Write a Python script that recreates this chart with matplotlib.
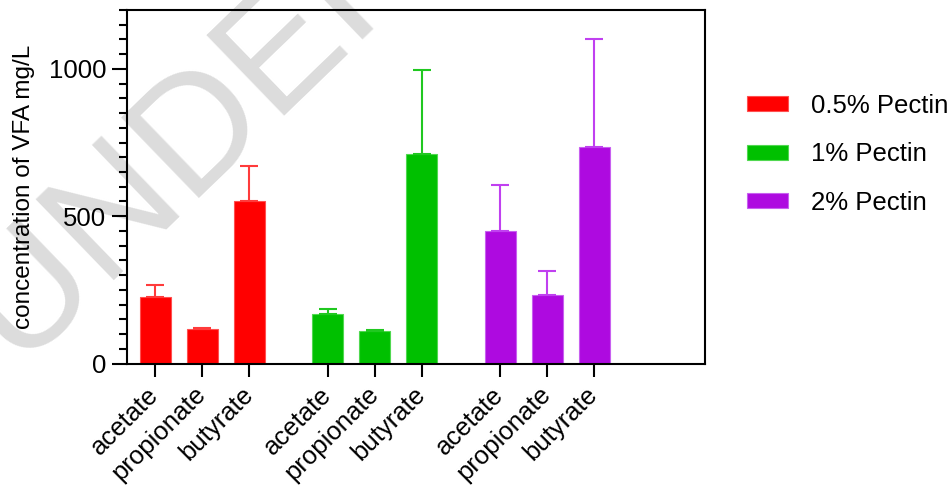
import matplotlib
matplotlib.use("Agg")
import matplotlib.pyplot as plt
from matplotlib.patches import Patch
from matplotlib.ticker import MultipleLocator

plt.rcParams['font.family'] = ['Liberation Sans', 'DejaVu Sans']

categories = ["acetate", "propionate", "butyrate"]
groups = ["0.5% Pectin", "1% Pectin", "2% Pectin"]
means = {
    "0.5% Pectin": [226, 116, 552],
    "1% Pectin": [168, 109, 712],
    "2% Pectin": [449, 231, 734],
}
errors = {
    "0.5% Pectin": [40, 3, 118],
    "1% Pectin": [18, 4, 283],
    "2% Pectin": [157, 82, 368],
}
colors = ["#FF0000", "#00C000", "#AE0AE0"]
edge_colors = ["#FF5050", "#50D850", "#C860F0"]
err_colors = ["#FF3B3B", "#20C820", "#C040F0"]

fig = plt.figure(figsize=(9.52, 4.87), dpi=100)
ax = fig.add_axes([127/952, 1-363.5/487, (705-127)/952, (363.5-10)/487])
ax.patch.set_alpha(0)

# watermark
fig.text(20/952, 1-372/487, "UNDER REVIEW", fontsize=118, color="#DCDCDC",
         rotation=44, rotation_mode="anchor", ha="left", va="baseline", zorder=-5)

group_gap = 1.67
width = 0.66
xticks, xlabels = [], []
for gi, g in enumerate(groups):
    xs = [gi * (len(categories) - 1 + group_gap) + i for i in range(len(categories))]
    ax.bar(xs, means[g], width=width, color=colors[gi], edgecolor=edge_colors[gi],
           linewidth=0.8, label=g, zorder=2)
    ax.errorbar(xs, means[g], yerr=[[0]*len(xs), errors[g]], fmt="none",
                ecolor=err_colors[gi], elinewidth=1.5, capsize=6.5, capthick=1.5, zorder=3)
    xticks += xs
    xlabels += categories

ax.set_xlim(-0.6, 11.7)
ax.set_ylim(0, 1200)
ax.yaxis.set_major_locator(MultipleLocator(500))
ax.yaxis.set_minor_locator(MultipleLocator(50))
ax.set_xticks(xticks)
ax.set_xticklabels(xlabels, rotation=45, ha="right", rotation_mode="anchor", va="center")

for s in ax.spines.values():
    s.set_linewidth(1.5)
    s.set_color("black")
ax.tick_params(axis="y", which="major", length=11, width=1.5, labelsize=18.5, pad=4)
ax.tick_params(axis="y", which="minor", length=5.8, width=1.5)
ax.tick_params(axis="x", which="major", length=9.6, width=1.5, labelsize=18.5, pad=10)
ax.set_ylabel("concentration of VFA mg/L", fontsize=17.5, labelpad=10)

handles = [Patch(facecolor=colors[i], edgecolor=edge_colors[i], linewidth=0.8) for i in range(3)]
fig.legend(handles, groups, loc="upper left", bbox_to_anchor=(747/952, 1-94/487),
           frameon=False, fontsize=18.5, handlelength=1.6, handleheight=0.52,
           handletextpad=0.9, labelspacing=0.95, borderpad=0, borderaxespad=0)

fig.savefig("out.png", dpi=100)
